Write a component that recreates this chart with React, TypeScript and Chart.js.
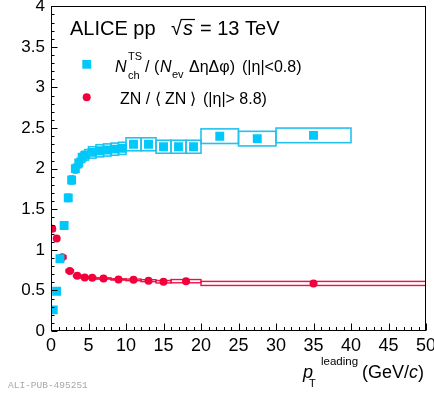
import React, { useEffect, useRef } from 'react';
import { Chart, registerables } from 'chart.js';

Chart.register(...registerables);

const FONT = '"Liberation Sans", Arial, Helvetica, sans-serif';

// N_ch^TS / (N_ev Δη Δφ) (|η|<0.8)
const nchX = [0.3, 0.75, 1.2, 1.75, 2.3, 2.75, 3.25, 3.7, 4.15, 4.6, 5.5, 6.5, 7.5, 8.5, 9.5, 11, 13, 15, 17, 19, 22.5, 27.5, 35];
const nchY = [0.26, 0.49, 0.89, 1.30, 1.64, 1.86, 2.00, 2.07, 2.14, 2.17, 2.20, 2.22, 2.23, 2.24, 2.25, 2.30, 2.30, 2.27, 2.27, 2.27, 2.40, 2.37, 2.41];
const nchLo = [0.15, 0.5, 1, 1.5, 2, 2.5, 3, 3.5, 4, 4.5, 5, 6, 7, 8, 9, 10, 12, 14, 16, 18, 20, 25, 30];
const nchHi = [0.5, 1, 1.5, 2, 2.5, 3, 3.5, 4, 4.5, 5, 6, 7, 8, 9, 10, 12, 14, 16, 18, 20, 25, 30, 40];
const nchSys = [0.01, 0.015, 0.025, 0.035, 0.045, 0.05, 0.055, 0.06, 0.065, 0.065, 0.07, 0.075, 0.075, 0.075, 0.075, 0.08, 0.08, 0.08, 0.08, 0.08, 0.09, 0.09, 0.09];

// ZN / <ZN> (|η| > 8.8)
const znX = [0.17, 0.76, 1.5, 2.5, 3.5, 4.5, 5.5, 7, 9, 11, 13, 15, 18, 35];
const znY = [1.26, 1.14, 0.91, 0.74, 0.68, 0.66, 0.655, 0.647, 0.635, 0.63, 0.62, 0.607, 0.614, 0.586];
const znLo = [0, 0.5, 1, 2, 3, 4, 5, 6, 8, 10, 12, 14, 16, 20];
const znHi = [0.5, 1, 2, 3, 4, 5, 6, 8, 10, 12, 14, 16, 20, 50];
const znSys = [0.03, 0.03, 0.02, 0.015, 0.012, 0.01, 0.008, 0.008, 0.008, 0.01, 0.012, 0.015, 0.02, 0.025];

const BLUE = '#00c8fa';
const BLUE_BOX = '#22c2ee';
const RED = '#f2003c';
const RED_BOX = '#ee1048';

const overlay = {
  id: 'aliceOverlay',
  beforeDatasetsDraw(chart: any) {
    const { ctx, chartArea: a, scales } = chart;
    const x = scales.x;
    const y = scales.y;
    ctx.save();
    ctx.beginPath();
    ctx.rect(a.left, a.top, a.right - a.left, a.bottom - a.top);
    ctx.clip();
    const box = (lo: number, hi: number, v: number, s: number, color: string, lw: number) => {
      const x0 = x.getPixelForValue(lo);
      const x1 = x.getPixelForValue(hi);
      const y0 = y.getPixelForValue(v + s);
      const y1 = y.getPixelForValue(v - s);
      ctx.strokeStyle = color;
      ctx.lineWidth = lw;
      ctx.strokeRect(x0, y0, x1 - x0, y1 - y0);
    };
    nchY.forEach((v, i) => box(nchLo[i], nchHi[i], v, nchSys[i], BLUE_BOX, 1.6));
    znY.forEach((v, i) => box(znLo[i], znHi[i], v, znSys[i], RED_BOX, 1.4));
    ctx.restore();
  },
  afterDraw(chart: any) {
    const { ctx, chartArea: a, scales } = chart;
    const x = scales.x;
    const y = scales.y;
    ctx.save();
    // frame
    ctx.strokeStyle = '#000';
    ctx.lineWidth = 1;
    const L = Math.round(a.left) + 0.5;
    const T = Math.round(a.top) + 0.5;
    const R = Math.round(a.right) - 0.5;
    const B = Math.round(a.bottom) - 0.5;
    ctx.strokeRect(L, T, R - L, B - T);
    // ticks (inside)
    ctx.beginPath();
    for (let v = 0; v <= 50; v += 1) {
      const px = Math.round(x.getPixelForValue(v)) + 0.5;
      const len = v % 5 === 0 ? 7 : 3.5;
      ctx.moveTo(px, B);
      ctx.lineTo(px, B - len);
    }
    for (let i = 0; i <= 40; i++) {
      const py = Math.round(y.getPixelForValue(i / 10)) + 0.5;
      const len = i % 5 === 0 ? 6 : 3;
      ctx.moveTo(L, py);
      ctx.lineTo(L + len, py);
    }
    ctx.stroke();

    const txt = (s: string, px: number, py: number, size: number, italic = false, color = '#000', family = FONT) => {
      ctx.font = `${italic ? 'italic ' : ''}${size}px ${family}`;
      ctx.fillStyle = color;
      ctx.textAlign = 'left';
      ctx.textBaseline = 'alphabetic';
      ctx.fillText(s, px, py);
    };

    // title
    txt('ALICE pp', 70, 35, 20);
    txt('\u221A', 171, 35, 20);
    txt('s', 183, 35, 20, true);
    ctx.beginPath();
    ctx.lineWidth = 1.2;
    ctx.moveTo(181, 19.5);
    ctx.lineTo(195, 19.5);
    ctx.stroke();
    txt('= 13 TeV', 200, 35, 20);

    // legend markers
    ctx.fillStyle = BLUE;
    ctx.fillRect(86.7 - 4.4, 64.3 - 4.4, 8.8, 8.8);
    ctx.fillStyle = RED;
    ctx.beginPath();
    ctx.arc(86.7, 97.3, 4, 0, Math.PI * 2);
    ctx.fill();

    // legend text 1
    txt('N', 115, 72, 16, true);
    txt('ch', 128, 79, 11);
    txt('TS', 128, 60, 11);
    txt('/ (', 145, 72, 16);
    txt('N', 160, 72, 16, true);
    txt('ev', 172, 78, 11);
    txt('\u0394\u03B7\u0394\u03C6)', 189, 72, 16);
    txt('(|\u03B7|<0.8)', 242, 72, 16);

    // legend text 2
    txt('ZN /', 120, 103.5, 16);
    txt('\u27E8', 155, 103.5, 16);
    txt('ZN', 165, 103.5, 16);
    txt('\u27E9', 190, 103.5, 16);
    txt('(|\u03B7|> 8.8)', 203, 103.5, 16);

    // x axis title
    txt('p', 303, 378, 18, true);
    txt('T', 309, 387, 11);
    txt('leading', 321, 365, 11.5);
    ctx.font = `18px ${FONT}`;
    const w1 = ctx.measureText('(GeV/').width;
    txt('(GeV/', 362, 378, 18);
    txt('c', 362 + w1, 378, 18, true);
    ctx.font = `italic 18px ${FONT}`;
    const w2 = ctx.measureText('c').width;
    txt(')', 362 + w1 + w2, 378, 18);

    // watermark
    txt('ALI-PUB-495251', 8, 388, 9.5, false, '#a8a8a8', '"Liberation Mono", "DejaVu Sans Mono", monospace');
    ctx.restore();
  },
};

export default function App() {
  const ref = useRef<HTMLCanvasElement | null>(null);
  useEffect(() => {
    if (!ref.current) return;
    const chart = new Chart(ref.current, {
      type: 'scatter',
      data: {
        datasets: [
          {
            label: 'Nch',
            data: nchX.map((v, i) => ({ x: v, y: nchY[i] })),
            pointStyle: 'rect',
            pointRadius: 6.3,
            pointBackgroundColor: BLUE,
            pointBorderWidth: 0,
            showLine: false,
          },
          {
            label: 'ZN',
            data: znX.map((v, i) => ({ x: v, y: znY[i] })),
            pointStyle: 'circle',
            pointRadius: 4,
            pointBackgroundColor: RED,
            pointBorderWidth: 0,
            showLine: false,
          },
        ],
      },
      options: {
        animation: false,
        responsive: false,
        maintainAspectRatio: false,
        layout: { padding: { left: 0, top: 6, right: 8, bottom: 0 } },
        plugins: { legend: { display: false }, tooltip: { enabled: false }, title: { display: false } },
        scales: {
          x: {
            type: 'linear',
            min: 0,
            max: 50,
            grid: { display: false, drawTicks: false },
            border: { display: false },
            ticks: {
              stepSize: 5,
              autoSkip: false,
              maxRotation: 0,
              padding: 4,
              color: '#000',
              font: { family: FONT, size: 18 },
              callback: (v: any) => String(v),
            },
            afterFit: (s: any) => {
              s.height = 65;
              s.paddingLeft = 0;
              s.paddingRight = 0;
            },
          },
          y: {
            type: 'linear',
            min: 0,
            max: 4,
            grid: { display: false, drawTicks: false },
            border: { display: false },
            ticks: {
              stepSize: 0.5,
              autoSkip: false,
              padding: 6,
              color: '#000',
              font: { family: FONT, size: 17 },
              callback: (v: any) => String(v),
            },
            afterFit: (s: any) => {
              s.width = 51;
              s.paddingTop = 0;
              s.paddingBottom = 0;
            },
          },
        },
      },
      plugins: [overlay],
    } as any);
    return () => chart.destroy();
  }, []);
  return (
    <div style={{ position: 'absolute', left: 0, top: 0, width: 434, height: 396, background: '#fff' }}>
      <canvas ref={ref} width={434} height={396} style={{ display: 'block', width: 434, height: 396 }} />
    </div>
  );
}
